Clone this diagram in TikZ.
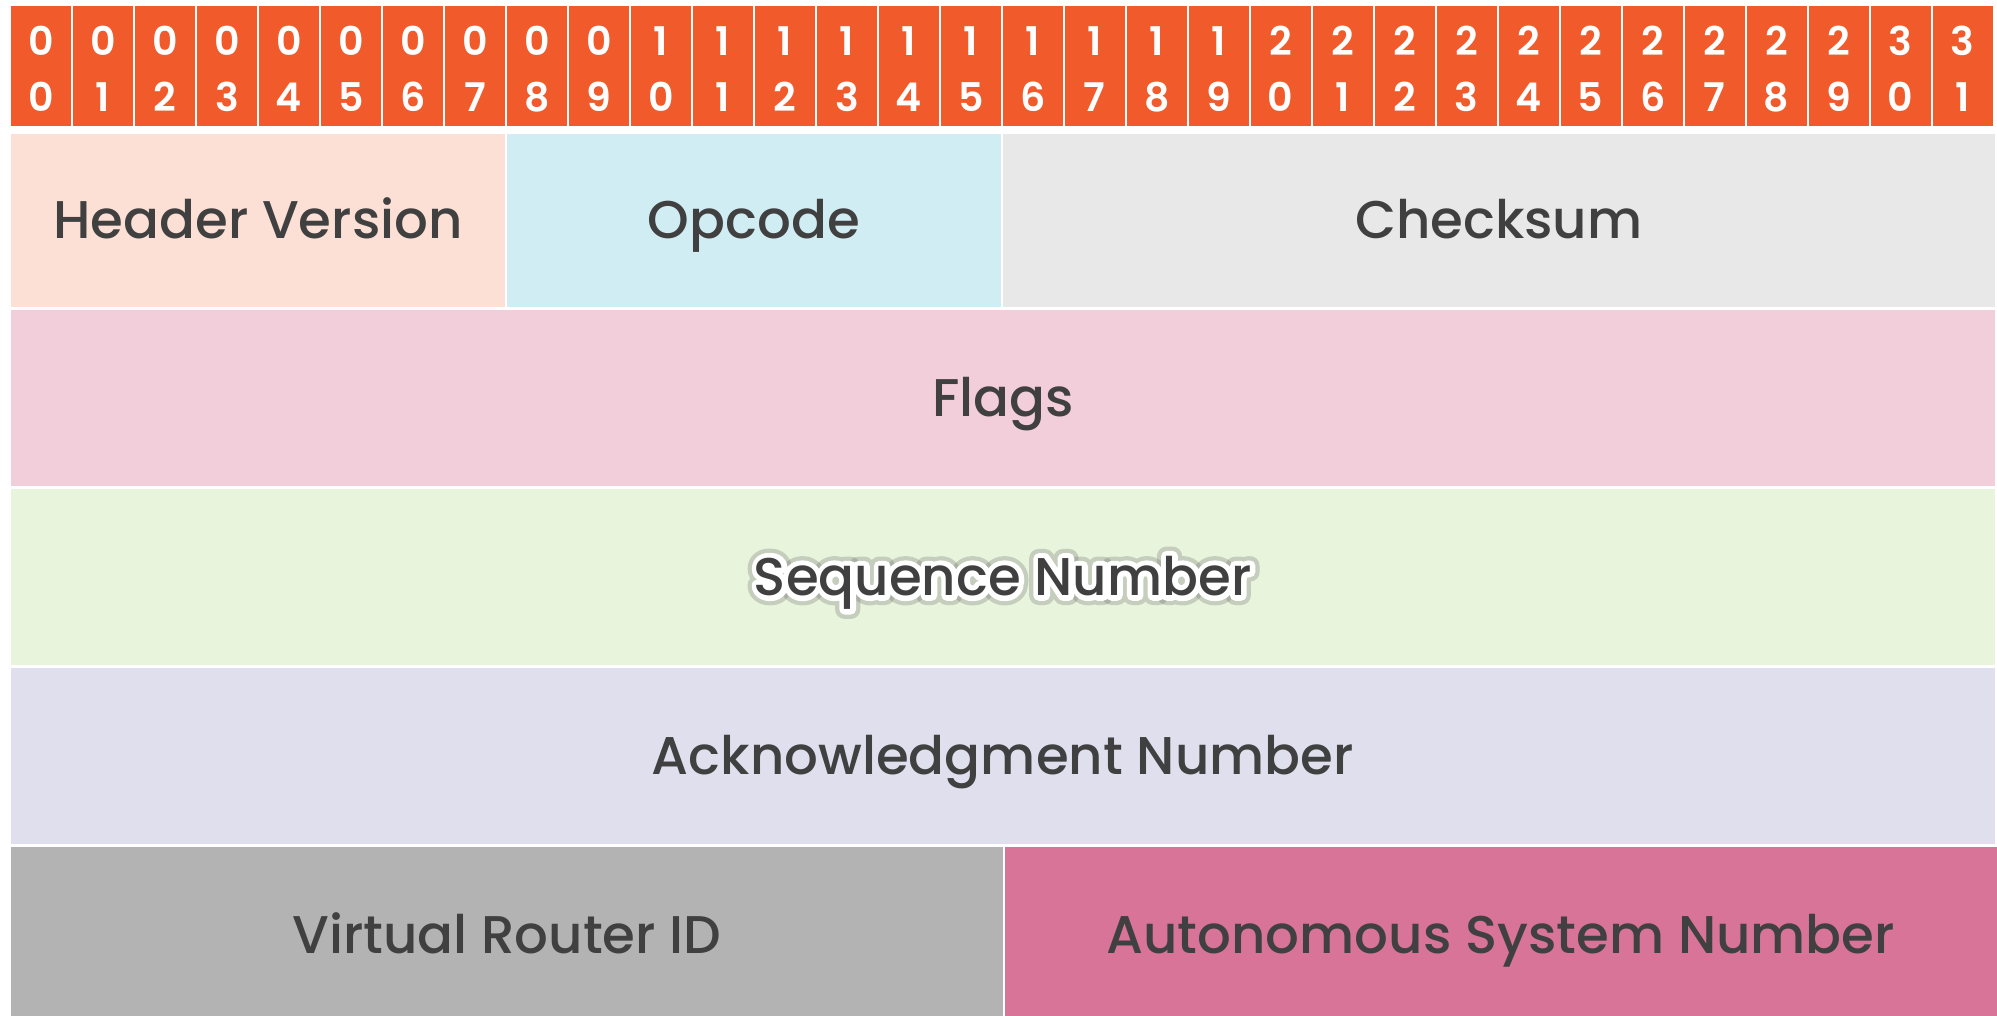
\documentclass[tikz,border=0pt]{standalone}
\usepackage{fontspec}
\setmainfont{Poppins}
\newfontfamily\bitfont{Poppins SemiBold}
\newfontfamily\fieldfont{Poppins Medium}
\newfontfamily\haloinner{Poppins Medium}[FakeBold=20]
\newfontfamily\halouter{Poppins Medium}[FakeBold=36]
\usetikzlibrary{positioning}

\definecolor{bitorange}{HTML}{F15A2B}
\definecolor{hdrpeach}{HTML}{FCDFD5}
\definecolor{opcyan}{HTML}{D1EDF4}
\definecolor{chkgrey}{HTML}{E8E8E8}
\definecolor{flagpink}{HTML}{F2CEDB}
\definecolor{seqgreen}{HTML}{E9F4DC}
\definecolor{ackviolet}{HTML}{E0DFED}
\definecolor{vridgrey}{HTML}{B3B3B3}
\definecolor{asnpink}{HTML}{D87497}
\definecolor{textgrey}{HTML}{404040}

\begin{document}
\begin{tikzpicture}[x=0.02cm,y=-0.02cm,node distance=0.04cm,
    bit/.style={fill=bitorange,minimum width=1.2cm,minimum height=2.4cm,inner sep=0pt,outer sep=0pt,text=white,align=center,font=\bitfont\fontsize{22.5}{32}\selectfont},
    field/.style={anchor=north west,minimum height=3.52cm,inner sep=0pt,outer sep=0pt,text=textgrey,text height=21pt,text depth=0pt,font=\fieldfont\fontsize{30.2}{36}\selectfont},
    fieldtext/.style={inner sep=0pt,outer sep=0pt,text=textgrey,text height=21pt,text depth=0pt,font=\fieldfont\fontsize{30.2}{36}\selectfont},
    halo/.style={fieldtext,line join=round,line cap=round,miter limit=1}]

    \useasboundingbox (0,0) rectangle (1997,1016);

    % bit numbers
    \node[bit] (b0) at (41,66) {\rule{0pt}{20pt}0\\0};
    \foreach \i [remember=\i as \j (initially 0)] in {1,...,31}{
        \pgfmathtruncatemacro\tens{int(\i/10)}
        \pgfmathtruncatemacro\ones{mod(\i,10)}
        \node[bit] (b\i) [right=of b\j] {\rule{0pt}{20pt}\tens\\\ones};
    }

    % first word
    \node[field,fill=hdrpeach,minimum width=9.88cm,minimum height=3.46cm] (hdr) at (11,134) {Header Version};
    \node[field,fill=opcyan,minimum width=9.88cm,minimum height=3.46cm] (opc) [right=of hdr] {Opcode};
    \node[field,fill=chkgrey,minimum width=19.84cm,minimum height=3.46cm] (chk) [right=of opc] {Checksum};

    \node[field,fill=flagpink,minimum width=39.68cm] (flags) at (11,310) {Flags};
    \node[field,fill=seqgreen,minimum width=39.68cm] (seq) at (11,489) {};
    \node[field,fill=ackviolet,minimum width=39.68cm] (ack) at (11,668) {Acknowledgment Number};

    \node[field,fill=vridgrey,minimum width=19.84cm] (vrid) at (11,847) {Virtual Router ID};
    \node[field,fill=asnpink,minimum width=19.84cm] (asn) [right=of vrid] {Autonomous System Number};

    % glow round the sequence label
    \node[halo,text=black!55,opacity=0.3,font=\halouter\fontsize{30.2}{36}\selectfont] (seqglow) at (seq.center) {Sequence Number};
    \node[halo,text=white,font=\haloinner\fontsize{30.2}{36}\selectfont] (seqhalo) at (seq.center) {Sequence Number};
    \node[fieldtext] (seqlabel) at (seq.center) {Sequence Number};
\end{tikzpicture}
\end{document}
